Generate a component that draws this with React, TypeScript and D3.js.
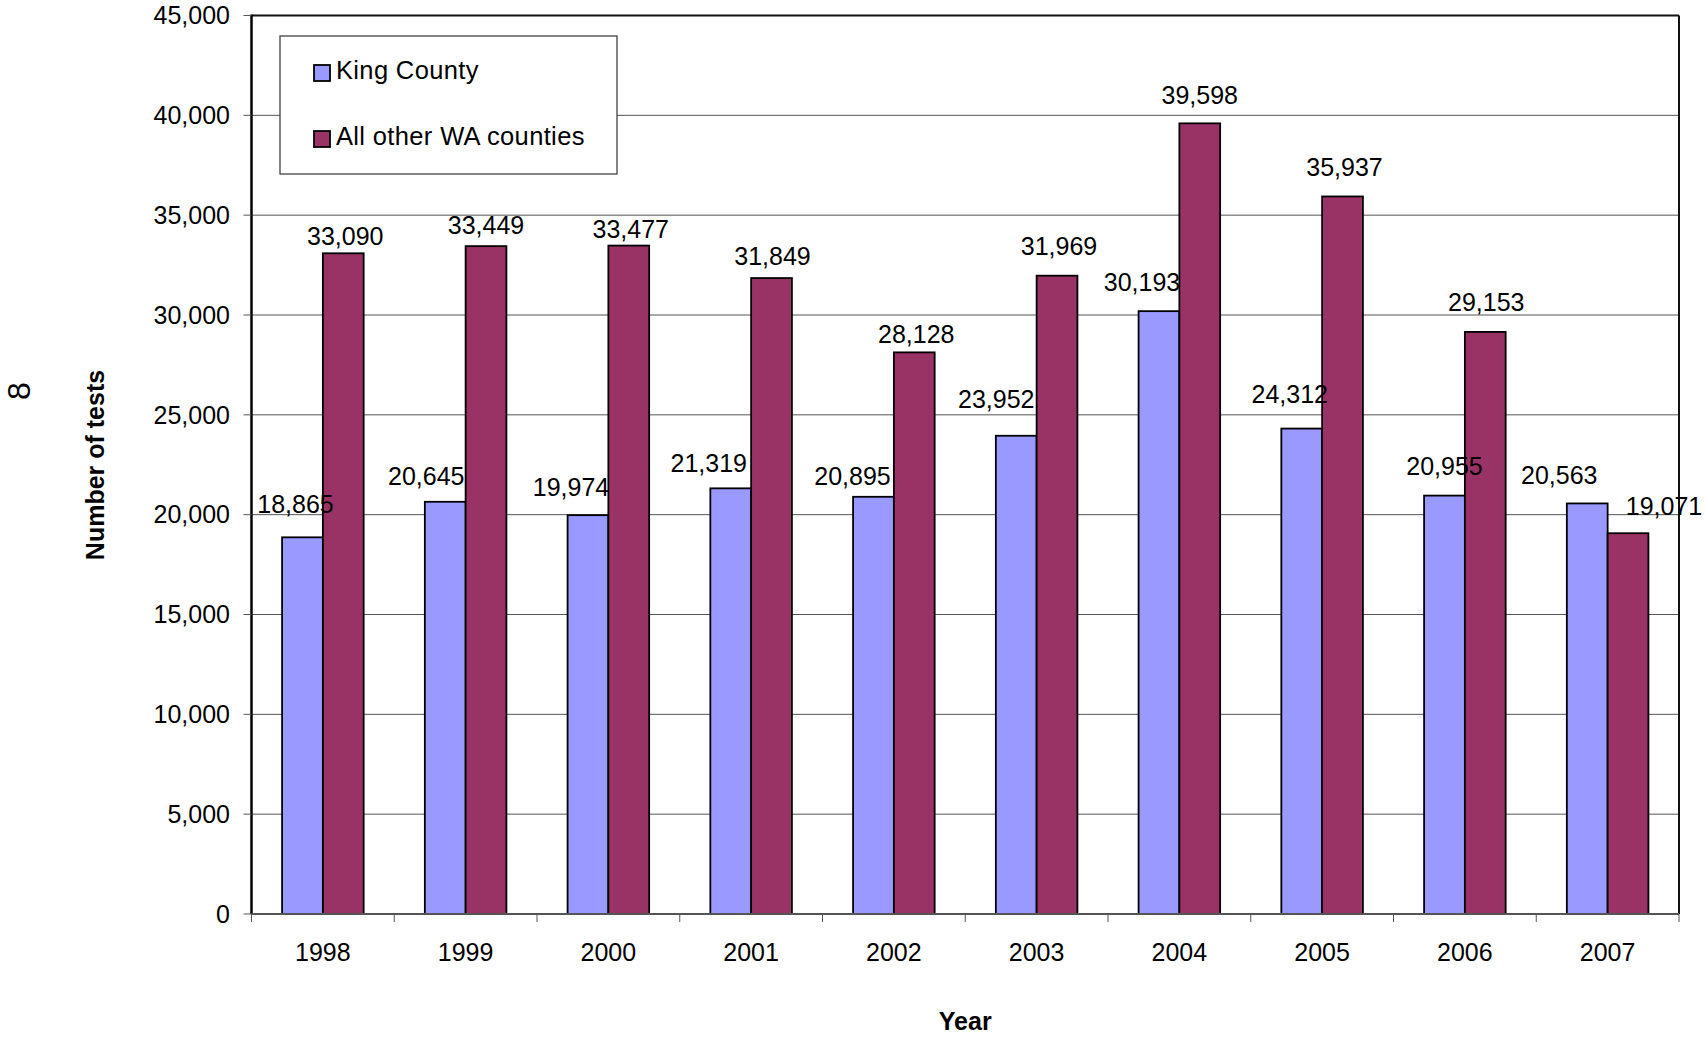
import React from 'react';
import * as d3 from 'd3';

// data
const years = ['1998', '1999', '2000', '2001', '2002', '2003', '2004', '2005', '2006', '2007'];
const kingCounty = [18865, 20645, 19974, 21319, 20895, 23952, 30193, 24312, 20955, 20563];
const otherCounties = [33090, 33449, 33477, 31849, 28128, 31969, 39598, 35937, 29153, 19071];
const seriesNames = ['King County', 'All other WA counties'];
const yTicks = [0, 5000, 10000, 15000, 20000, 25000, 30000, 35000, 40000, 45000];

// hand-placed label nudges (px, relative to bar top centre)
const kingLabelDx = [-7, -19, -17, -22, -21, -20, -17, -12, 0, -28];
const kingLabelDy = [-33, -26, -28, -25, -21, -37, -29, -34, -29, -28];
const otherLabelDx = [2, 0, 2, 1, 2, 2, 0, 2, 1, 36];
const otherLabelDy = [-17, -21, -16, -22, -18, -29, -28, -29, -30, -27];

const colors = ['#9999FF', '#993366'];
const font = '"Liberation Sans", Arial, sans-serif';

export default function App() {
  const width = 1706;
  const height = 1037;
  const left = 251.5;
  const right = 1679;
  const top = 15.5;
  const bottom = 914;

  /* Scales */
  const x0 = d3.scaleBand<string>()
    .domain(years)
    .range([left, right])
    .paddingInner(1.5 / 3.5)
    .paddingOuter(0.75 / 3.5);

  const x1 = d3.scaleBand<string>()
    .domain(seriesNames)
    .range([0, x0.bandwidth()])
    .padding(0);

  const y = d3.scaleLinear()
    .domain([0, 45000])
    .range([bottom, top]);

  const fmt = d3.format(',');
  const step = x0.step();
  const catEdges = d3.range(years.length + 1).map(i => left + i * step);

  const series = [
    { name: seriesNames[0], values: kingCounty, dx: kingLabelDx, dy: kingLabelDy, color: colors[0] },
    { name: seriesNames[1], values: otherCounties, dx: otherLabelDx, dy: otherLabelDy, color: colors[1] },
  ];

  return (
    <svg width={width} height={height}
      style={{ position: 'absolute', left: 0, top: 0, display: 'block', background: '#fff' }}
      fontFamily={font}>

      {/* gridlines */}
      {yTicks.filter(t => t > 0 && t < 45000).map(t => (
        <line key={'g' + t} x1={left} x2={right} y1={y(t)} y2={y(t)} stroke="#555" strokeWidth={1} />
      ))}

      {/* frame top/right */}
      <line x1={left} x2={right} y1={top} y2={top} stroke="#111" strokeWidth={2} />
      <line x1={right} x2={right} y1={top} y2={bottom} stroke="#111" strokeWidth={2} />

      {/* bars */}
      {series.map(s => (
        <g key={s.name}>
          {years.map((yr, i) => (
            <rect key={yr}
              x={(x0(yr) as number) + (x1(s.name) as number)}
              y={y(s.values[i])}
              width={x1.bandwidth()}
              height={y(0) - y(s.values[i])}
              fill={s.color}
              stroke="#000"
              strokeWidth={1.8} />
          ))}
        </g>
      ))}

      {/* y axis */}
      <line x1={left} x2={left} y1={top - 1} y2={bottom} stroke="#000" strokeWidth={2.5} />
      {yTicks.map(t => (
        <g key={'y' + t}>
          <line x1={left - 8} x2={left} y1={y(t)} y2={y(t)} stroke="#555" strokeWidth={1} />
          <text x={230} y={y(t)} dy="0.35em" textAnchor="end" fontSize={25} fill="#000">{fmt(t)}</text>
        </g>
      ))}

      {/* x axis */}
      <line x1={left} x2={right} y1={bottom} y2={bottom} stroke="#555" strokeWidth={2} />
      {catEdges.map((e, i) => (
        <line key={'xt' + i} x1={e} x2={e} y1={bottom} y2={bottom + 8} stroke="#555" strokeWidth={1} />
      ))}
      {years.map(yr => (
        <text key={'xl' + yr} x={(x0(yr) as number) + x0.bandwidth() / 2} y={952} dy="0.35em"
          textAnchor="middle" fontSize={25} fill="#000">{yr}</text>
      ))}

      {/* data labels */}
      {series.map(s => (
        <g key={'lab' + s.name}>
          {years.map((yr, i) => (
            <text key={yr}
              x={(x0(yr) as number) + (x1(s.name) as number) + x1.bandwidth() / 2 + s.dx[i]}
              y={y(s.values[i]) + s.dy[i]}
              dy="0.35em"
              textAnchor="middle"
              fontSize={25}
              fill="#000">{fmt(s.values[i])}</text>
          ))}
        </g>
      ))}

      {/* axis titles */}
      <text x={(left + right) / 2} y={1021} dy="0.35em" textAnchor="middle" fontSize={25} fontWeight="bold">Year</text>
      <text transform={`translate(95, 465) rotate(-90)`} dy="0.35em" textAnchor="middle" fontSize={25} fontWeight="bold">Number of tests</text>
      <g transform="translate(19, 391)">
        <text transform="rotate(-90)" dy="0.35em" textAnchor="middle" fontSize={32} fill="#000">8</text>
      </g>

      {/* legend */}
      <g>
        <rect x={280} y={36} width={337} height={138} fill="#fff" stroke="#333" strokeWidth={1.2} />
        {series.map((s, i) => (
          <g key={'leg' + s.name} transform={`translate(314, ${65 + i * 66})`}>
            <rect x={0} y={0} width={16} height={16} fill={s.color} stroke="#000" strokeWidth={1.8} />
            <text x={22} y={5} dy="0.35em" fontSize={25.5} letterSpacing={0.35} fill="#000">{s.name}</text>
          </g>
        ))}
      </g>
    </svg>
  );
}
